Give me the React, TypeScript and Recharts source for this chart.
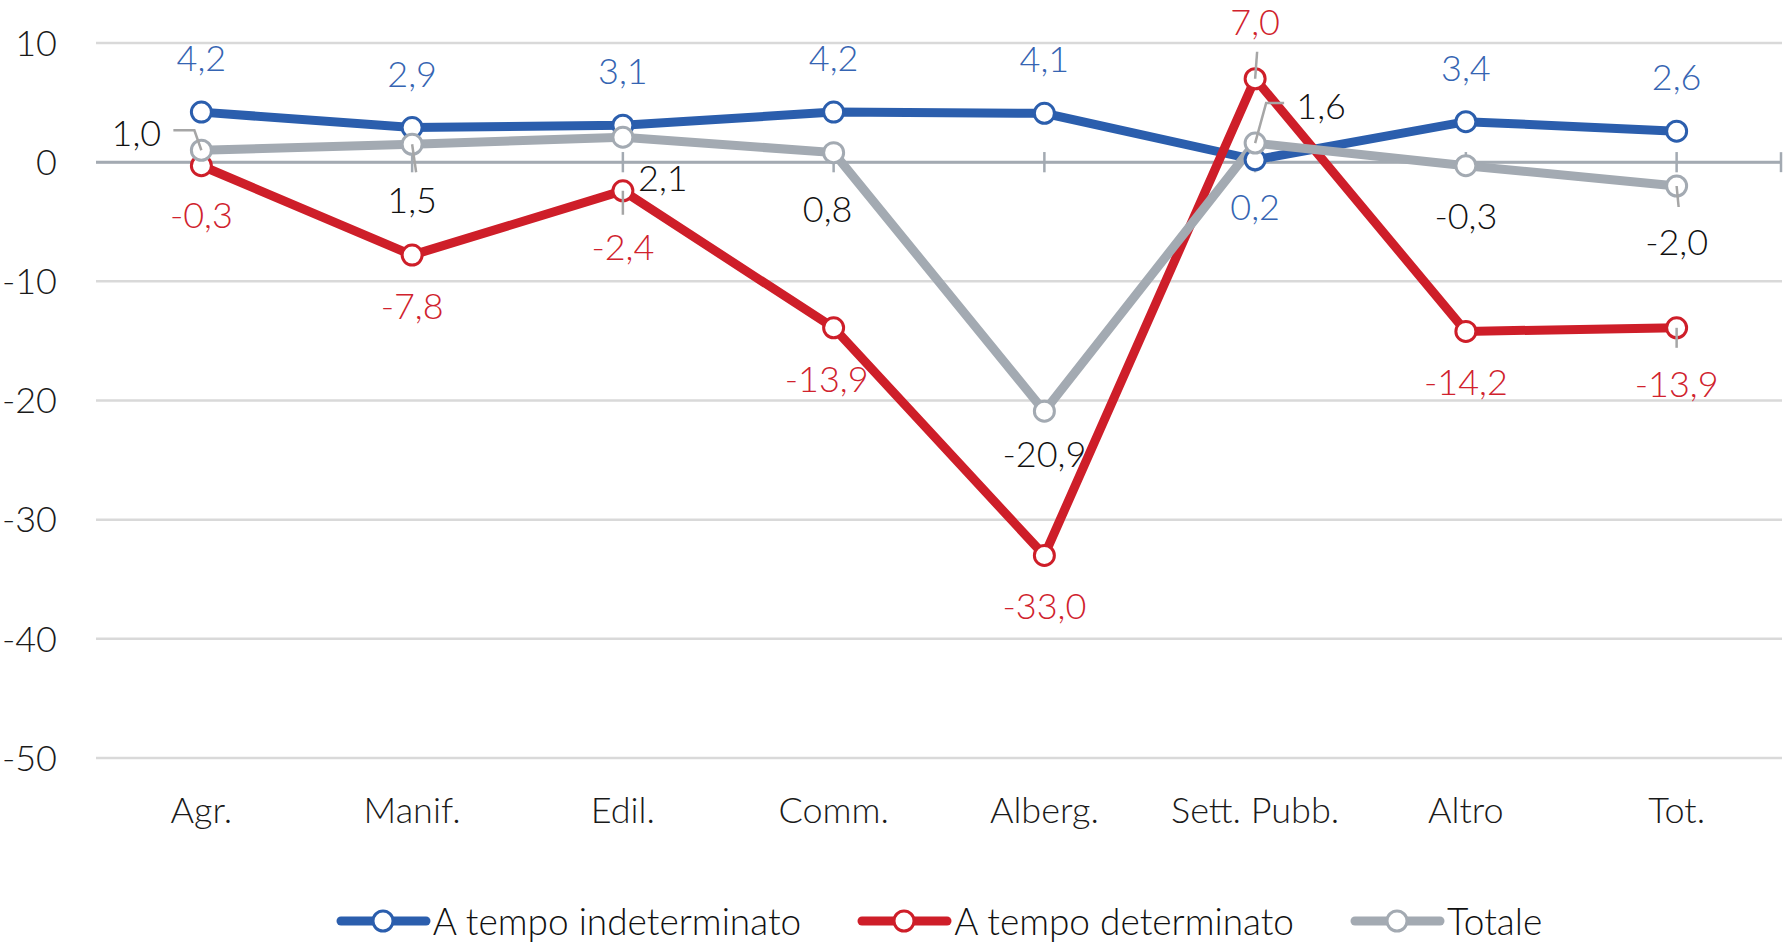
import React from 'react';
import { LineChart, Line, XAxis, YAxis, CartesianGrid, ReferenceLine, LabelList, Legend } from 'recharts';

const categories = ['Agr.', 'Manif.', 'Edil.', 'Comm.', 'Alberg.', 'Sett. Pubb.', 'Altro', 'Tot.'];
const indeterminato = [4.2, 2.9, 3.1, 4.2, 4.1, 0.2, 3.4, 2.6];
const determinato = [-0.3, -7.8, -2.4, -13.9, -33.0, 7.0, -14.2, -13.9];
const totale = [1.0, 1.5, 2.1, 0.8, -20.9, 1.6, -0.3, -2.0];
const yTicks = [-50, -40, -30, -20, -10, 0, 10];

const data = categories.map((name, i) => ({
  name,
  ind: indeterminato[i],
  det: determinato[i],
  tot: totale[i],
}));

const BLUE = '#2B5EAD';
const RED = '#CE1E29';
const GRAY = '#A3AAB2';
const LEADER = '#A6A6A6';
const FONT = "Lato, 'Noto Sans', sans-serif";

// label placement: [dx, dy] from point to text centre, plus optional leader polyline
const indPlace = [[0, -55], [0, -55], [0, -55], [0, -55], [0, -55], [0, 46], [0, -55], [0, -55]];
const detPlace = [[0, 48], [0, 50], [0, 55], [-7, 50], [0, 50], [0, -58], [0, 50], [0, 55]];
const totPlace = [[-65, -18], [0, 55], [40, 40], [-6, 55], [0, 42], [66, -38], [0, 49], [0, 55]];
const detLeaders: Record<number, number[][]> = {
  2: [[0, 0], [0, 24]],
  5: [[0, 0], [2, -27]],
  7: [[0, 0], [0, 20]],
};
const totLeaders: Record<number, number[][]> = {
  0: [[0, 0], [-7, -20], [-28, -20]],
  1: [[0, 0], [4, 28]],
  5: [[0, 0], [11, -40], [29, -40]],
  7: [[0, 0], [2, 21]],
};

const fmt = (v: number) => v.toFixed(1).replace('.', ',');

const makeLabel = (color: string, place: number[][], leaders: Record<number, number[][]>) => (props: any) => {
  const { x, y, value, index } = props;
  const [dx, dy] = place[index];
  const lead = leaders[index];
  return (
    <g key={`l${index}`}>
      {lead && (
        <polyline
          points={lead.map(([a, b]) => `${x + a},${y + b}`).join(' ')}
          fill="none"
          stroke={LEADER}
          strokeWidth={2.5}
        />
      )}
      <text x={x + dx} y={y + dy} textAnchor="middle" dominantBaseline="central" fontSize={36} fontWeight={300} fill={color} fontFamily={FONT}>
        {fmt(value)}
      </text>
    </g>
  );
};

const legendItems = [
  { name: 'A tempo indeterminato', color: BLUE },
  { name: 'A tempo determinato', color: RED },
  { name: 'Totale', color: GRAY },
];

const renderLegend = () => (
  <div style={{ display: 'flex', justifyContent: 'center', alignItems: 'center', height: 48 }}>
    {legendItems.map((it, i) => (
      <div key={it.name} style={{ display: 'flex', alignItems: 'center', marginLeft: i === 0 ? 0 : 56 }}>
        <svg width={95} height={26}>
          <line x1={5} x2={90} y1={13} y2={13} stroke={it.color} strokeWidth={9} strokeLinecap="round" />
          <circle cx={47} cy={13} r={10} fill="#fff" stroke={it.color} strokeWidth={3} />
        </svg>
        <span style={{ fontSize: 37, fontWeight: 300, color: '#111', marginLeft: 2, lineHeight: '48px' }}>{it.name}</span>
      </div>
    ))}
  </div>
);

const zeroAxis = (props: any) => {
  const { x1, y1, x2, y2 } = props;
  return (
    <g>
      <line x1={x1} y1={y1} x2={x2} y2={y2} stroke={GRAY} strokeWidth={3} />
      <line x1={x2 - 1} y1={y1 - 10} x2={x2 - 1} y2={y1 + 10} stroke={GRAY} strokeWidth={2.5} />
    </g>
  );
};

export default function App() {
  return (
    <div style={{ position: 'absolute', left: 0, top: 0, width: 1786, height: 945, background: '#fff', fontFamily: FONT, fontWeight: 300 }}>
      <LineChart width={1786} height={945} data={data} margin={{ top: 43, right: 4, left: 0, bottom: 0 }}>
        <CartesianGrid vertical={false} stroke="#D9D9D9" strokeWidth={2.5} />
        <XAxis
          dataKey="name"
          scale="band"
          axisLine={false}
          tickLine={false}
          tickSize={0}
          tickMargin={39}
          height={139}
          interval={0}
          tick={{ fontSize: 36, fill: '#1a1a1a', fontWeight: 300 }}
        />
        <YAxis
          domain={[-50, 10]}
          ticks={yTicks}
          width={96}
          axisLine={false}
          tickLine={false}
          tickSize={0}
          tickMargin={39}
          tick={{ fontSize: 36, fill: '#1a1a1a', fontWeight: 300 }}
        />
        <ReferenceLine y={0} shape={zeroAxis} />
        {categories.map((c) => (
          <ReferenceLine key={c} segment={[{ x: c, y: -0.85 }, { x: c, y: 0.85 }]} stroke={GRAY} strokeWidth={2.5} />
        ))}
        <Legend verticalAlign="bottom" content={renderLegend} wrapperStyle={{ height: 48, left: 96, width: 1686 }} />
        <Line
          dataKey="ind"
          stroke={BLUE}
          strokeWidth={9}
          dot={{ r: 10, fill: '#fff', stroke: BLUE, strokeWidth: 3 }}
          activeDot={false}
          isAnimationActive={false}
        >
          <LabelList dataKey="ind" content={makeLabel('#3564B2', indPlace, {})} />
        </Line>
        <Line
          dataKey="det"
          stroke={RED}
          strokeWidth={9}
          dot={{ r: 10, fill: '#fff', stroke: RED, strokeWidth: 3 }}
          activeDot={false}
          isAnimationActive={false}
        >
          <LabelList dataKey="det" content={makeLabel('#D0222D', detPlace, detLeaders)} />
        </Line>
        <Line
          dataKey="tot"
          stroke={GRAY}
          strokeWidth={9}
          dot={{ r: 10, fill: '#fff', stroke: GRAY, strokeWidth: 3 }}
          activeDot={false}
          isAnimationActive={false}
        >
          <LabelList dataKey="tot" content={makeLabel('#111111', totPlace, totLeaders)} />
        </Line>
      </LineChart>
    </div>
  );
}
